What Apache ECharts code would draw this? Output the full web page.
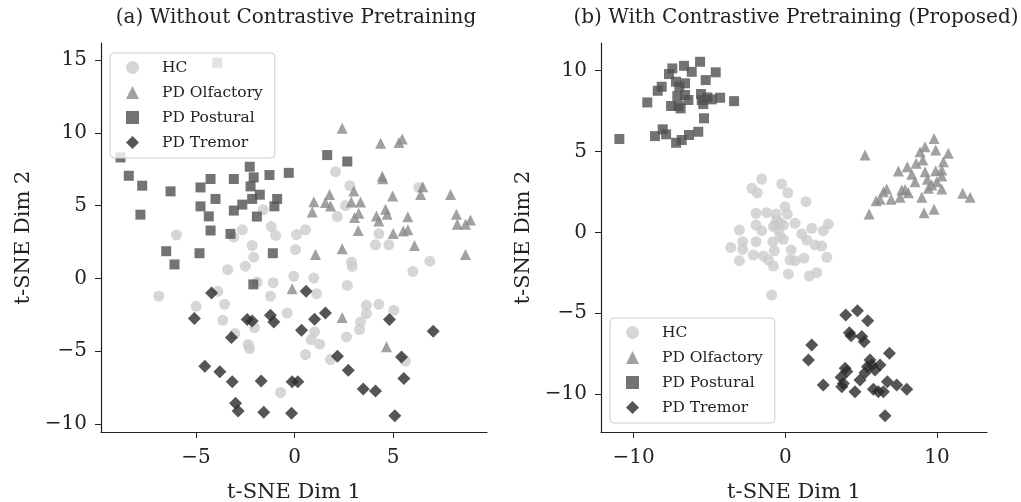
<!DOCTYPE html>
<html>
<head>
<meta charset="utf-8">
<script src="https://cdn.jsdelivr.net/npm/echarts@6.0.0/dist/echarts.min.js"></script>
<style>
  html, body { margin: 0; padding: 0; background: #fff; }
  #chart { width: 1021px; height: 502px; }
</style>
</head>
<body>
<div id="chart"></div>
<script>
// class names
var classes = ['HC', 'PD Olfactory', 'PD Postural', 'PD Tremor'];

// tick values
var leftXTicks = [-5, 0, 5];
var leftYTicks = [-10, -5, 0, 5, 10, 15];
var rightXTicks = [-10, 0, 10];
var rightYTicks = [-10, -5, 0, 5, 10];

// (a) without contrastive pretraining
var leftHC = [
  [-5.99, 2.99], [-2.65, 3.34], [-1.59, 4.71], [-1.18, 3.56], [-0.96, 2.95], [0.10, 3.01],
  [2.08, 7.33], [2.81, 6.37], [6.31, 6.25], [2.59, 5.00], [2.17, 4.25], [0.56, 3.34],
  [4.28, 3.06], [-3.08, 2.83], [-2.15, 2.26], [-2.07, 1.46], [-2.49, 0.84], [-3.39, 0.60],
  [0.05, 1.97], [-0.04, 0.14], [-1.08, -0.29], [-1.89, -0.25], [-1.22, -1.21], [-0.37, -2.38],
  [-3.89, -0.89], [-6.89, -1.21], [-3.55, -1.78], [-4.99, -1.92], [-3.64, -2.88], [-2.03, -3.38],
  [-3.03, -3.79], [-2.35, -4.54], [-2.28, -4.82], [-0.71, -7.83], [4.11, 2.31], [4.79, 2.31],
  [2.89, 1.12], [2.93, 0.82], [6.87, 1.18], [6.01, 0.48], [0.98, 0.02], [1.12, -1.05],
  [2.68, -0.48], [3.65, -1.85], [4.28, -1.78], [5.04, -2.19], [3.65, -2.42], [3.35, -2.99],
  [3.30, -3.51], [2.64, -4.02], [1.02, -3.68], [0.85, -4.20], [1.28, -4.52], [0.56, -5.23],
  [1.83, -5.57], [5.63, -5.68]
];
var leftOlf = [
  [2.42, 10.32], [4.37, 9.29], [5.30, 9.33], [5.47, 9.57], [4.45, 7.02], [4.48, 6.85],
  [6.51, 6.30], [6.40, 5.77], [7.92, 5.77], [4.98, 5.66], [1.78, 5.77], [0.98, 5.27],
  [1.57, 5.21], [1.83, 4.98], [3.01, 6.01], [2.88, 5.25], [3.35, 5.25], [3.26, 4.47],
  [3.05, 4.18], [0.90, 4.57], [4.62, 4.75], [4.70, 4.40], [4.16, 4.29], [4.28, 3.95],
  [5.75, 4.23], [8.22, 4.40], [8.26, 3.72], [8.68, 3.72], [8.93, 4.02], [3.23, 3.29],
  [5.01, 3.08], [5.52, 3.25], [5.75, 3.34], [2.42, 2.03], [1.07, 1.64], [6.09, 2.26],
  [8.68, 1.64], [2.42, -2.69], [4.67, -4.70], [-0.12, -0.71]
];
var leftPos = [
  [-3.92, 14.81], [-8.83, 8.31], [-8.41, 7.05], [-7.73, 6.37], [-6.29, 5.98], [-7.82, 4.38],
  [-4.77, 6.25], [-4.26, 6.83], [-4.01, 5.46], [-4.77, 4.95], [-4.35, 4.26], [-4.26, 3.29],
  [-3.25, 3.06], [-3.08, 6.83], [-2.27, 7.67], [-2.07, 6.94], [-2.23, 6.32], [-1.76, 5.75],
  [-2.15, 5.46], [-2.65, 5.07], [-3.08, 4.66], [-1.91, 4.25], [-1.27, 7.10], [-0.88, 5.46],
  [-1.02, 4.95], [-0.29, 7.25], [1.66, 8.47], [2.68, 8.03], [-6.51, 1.87], [-4.82, 1.73],
  [-6.09, 0.96], [-1.10, 1.73], [-2.09, -0.41]
];
var leftTre = [
  [-4.21, -1.01], [-5.08, -2.76], [-2.40, -2.83], [-2.15, -2.92], [-1.22, -2.53], [-1.05, -2.99],
  [-3.20, -4.06], [0.36, -3.56], [-4.55, -6.03], [-3.79, -6.42], [-3.16, -7.10], [-1.69, -7.05],
  [-0.12, -7.10], [0.17, -7.10], [-2.99, -8.58], [-2.86, -9.11], [-1.56, -9.20], [-0.15, -9.27],
  [0.59, -0.88], [1.02, -2.81], [1.57, -2.38], [4.82, -2.83], [7.04, -3.63], [2.18, -5.34],
  [2.73, -6.30], [5.43, -5.39], [5.55, -6.87], [3.49, -7.60], [4.11, -7.74], [5.09, -9.43]
];

// (b) with contrastive pretraining
var rightHC = [
  [-1.56, 3.29], [-2.21, 2.72], [-1.85, 2.44], [-0.24, 2.98], [0.16, 2.44], [1.36, 1.89],
  [-0.02, 1.58], [-1.93, 1.17], [-1.23, 1.21], [-0.61, 1.13], [0.13, 1.13], [0.64, 0.56],
  [-1.93, 0.45], [-1.56, 0.10], [-3.03, 0.14], [-0.79, 0.35], [-0.46, 0.14], [-0.13, 0.45],
  [-0.35, -0.27], [-0.83, -0.58], [-0.13, -0.43], [1.08, -0.10], [1.74, 0.25], [2.83, 0.51],
  [2.50, 0.10], [1.41, -0.48], [1.96, -0.78], [2.40, -0.85], [2.73, -1.54], [-3.60, -0.93],
  [-2.81, -0.58], [-2.81, -1.05], [-1.93, -0.58], [-2.11, -1.40], [-1.45, -1.46], [-1.12, -1.71],
  [-0.79, -2.08], [-0.73, -1.14], [0.38, -1.09], [0.31, -1.71], [0.64, -1.75], [1.23, -1.60],
  [-3.03, -1.75], [0.20, -2.57], [1.58, -2.70], [2.07, -2.49], [-0.90, -3.87], [-0.57, 0.76],
  [-0.68, 0.45], [-0.35, 0.56]
];
var rightOlf = [
  [5.25, 4.77], [9.80, 5.80], [9.21, 5.28], [8.88, 4.98], [9.91, 5.08], [10.74, 4.88],
  [9.06, 4.46], [10.42, 4.36], [8.62, 4.26], [8.04, 4.05], [7.45, 3.78], [9.21, 3.74],
  [9.91, 3.80], [10.31, 3.85], [8.33, 3.58], [10.31, 3.48], [9.36, 3.27], [8.55, 3.12],
  [9.98, 3.12], [9.65, 2.92], [9.43, 2.72], [10.31, 2.67], [6.68, 2.67], [6.46, 2.51],
  [7.67, 2.61], [7.89, 2.65], [8.11, 2.44], [7.56, 2.16], [6.97, 2.04], [6.24, 2.04],
  [5.98, 1.95], [8.99, 2.16], [11.69, 2.41], [12.18, 2.16], [5.52, 1.13], [9.14, 1.21],
  [9.80, 1.42]
];
var rightPos = [
  [-10.94, 5.76], [-9.10, 8.02], [-8.41, 8.74], [-8.15, 8.99], [-7.67, 9.77], [-7.45, 10.12],
  [-6.68, 10.28], [-5.62, 10.53], [-6.17, 9.91], [-4.59, 9.88], [-5.25, 9.40], [-7.21, 9.30],
  [-6.61, 9.20], [-6.99, 8.99], [-7.12, 8.41], [-6.61, 8.48], [-6.39, 8.17], [-7.53, 7.80],
  [-7.05, 7.80], [-6.90, 7.65], [-5.56, 8.54], [-5.51, 8.17], [-5.41, 7.92], [-5.14, 8.33],
  [-4.85, 8.21], [-4.30, 8.31], [-3.38, 8.10], [-5.36, 7.04], [-5.74, 6.21], [-6.35, 6.01],
  [-6.83, 5.70], [-7.20, 5.53], [-7.86, 6.05], [-8.08, 6.36], [-8.59, 5.94]
];
var rightTre = [
  [3.98, -5.10], [4.75, -4.84], [5.43, -5.46], [4.22, -6.20], [4.33, -6.38], [5.04, -6.44],
  [5.19, -6.75], [1.74, -6.96], [1.52, -7.88], [6.86, -7.47], [5.58, -7.88], [3.94, -8.40],
  [4.05, -8.60], [5.41, -8.30], [5.70, -8.19], [5.91, -8.50], [6.24, -8.19], [5.25, -8.67],
  [3.67, -8.95], [3.72, -9.53], [2.50, -9.43], [4.92, -9.12], [4.59, -9.84], [5.80, -9.69],
  [6.13, -9.84], [6.46, -9.84], [6.72, -9.22], [7.34, -9.43], [8.00, -9.69], [6.57, -11.32],
  [3.82, -9.33]
];

var font = 'DejaVu Serif';
var colors = ['#cccccc', '#8a8a8a', '#505050', '#2a2a2a'];
var symbols = ['circle', 'triangle', 'rect', 'diamond'];
var sizes = [11, 11, 10, 13];

function minus(v) { return String(v).replace('-', '\u2212'); }

function makeX(idx, min, max, ticks) {
  return {
    gridIndex: idx, type: 'value', min: min, max: max,
    name: 't-SNE Dim 1', nameLocation: 'middle', nameGap: 50,
    nameTextStyle: { fontFamily: font, fontSize: 21, color: '#222' },
    splitLine: { show: false },
    axisLine: { onZero: false, lineStyle: { color: '#222', width: 1.2 } },
    axisTick: { show: true, length: 6, customValues: ticks, lineStyle: { color: '#222' } },
    axisLabel: { customValues: ticks, margin: 16, fontFamily: font, fontSize: 20, color: '#222', formatter: minus }
  };
}
function makeY(idx, min, max, ticks) {
  return {
    gridIndex: idx, type: 'value', min: min, max: max,
    name: 't-SNE Dim 2', nameLocation: 'middle', nameGap: 67, nameRotate: 90,
    nameTextStyle: { fontFamily: font, fontSize: 21, color: '#222' },
    splitLine: { show: false },
    axisLine: { onZero: false, lineStyle: { color: '#222', width: 1.2 } },
    axisTick: { show: true, length: 6, customValues: ticks, lineStyle: { color: '#222' } },
    axisLabel: { customValues: ticks, margin: 14, fontFamily: font, fontSize: 20, color: '#222', formatter: minus }
  };
}
function makeSeries(idx, groups) {
  return groups.map(function (d, i) {
    return {
      name: classes[i], type: 'scatter', xAxisIndex: idx, yAxisIndex: idx,
      symbol: symbols[i], symbolSize: sizes[i], data: d,
      itemStyle: { color: colors[i], opacity: 0.8 },
      emphasis: { disabled: true }
    };
  });
}
function makeLegend(left, top) {
  return {
    data: classes, orient: 'vertical', left: left, top: top,
    itemWidth: 13, itemHeight: 13, itemGap: 8,
    padding: [6, 12, 7, 16],
    backgroundColor: 'rgba(255,255,255,0.8)', borderColor: '#cccccc', borderWidth: 1, borderRadius: 4,
    textStyle: { fontFamily: font, fontSize: 15.5, color: '#222', lineHeight: 17, padding: [0, 0, 0, 18] }
  };
}

var myChart = echarts.init(document.getElementById('chart'));
var option = {
  animation: false,
  title: [
    { text: '(a) Without Contrastive Pretraining', left: 291, top: 3, textAlign: 'center',
      textStyle: { fontFamily: font, fontSize: 20, fontWeight: 'normal', color: '#222' } },
    { text: '(b) With Contrastive Pretraining (Proposed)', left: 791, top: 3, textAlign: 'center',
      textStyle: { fontFamily: font, fontSize: 20, fontWeight: 'normal', color: '#222' } }
  ],
  legend: [makeLegend(110, 53), makeLegend(610, 318)],
  grid: [
    { left: 101, top: 43, width: 386, height: 389, outerBoundsMode: 'none', containLabel: false },
    { left: 601, top: 43, width: 386, height: 389, outerBoundsMode: 'none', containLabel: false }
  ],
  xAxis: [makeX(0, -9.82, 9.77, leftXTicks), makeX(1, -12.15, 13.29, rightXTicks)],
  yAxis: [makeY(0, -10.55, 16.17, leftYTicks), makeY(1, -12.33, 11.69, rightYTicks)],
  series: makeSeries(0, [leftHC, leftOlf, leftPos, leftTre])
    .concat(makeSeries(1, [rightHC, rightOlf, rightPos, rightTre]))
};
myChart.setOption(option);
window.addEventListener('resize', () => { myChart.resize() });
</script>
</body>
</html>
